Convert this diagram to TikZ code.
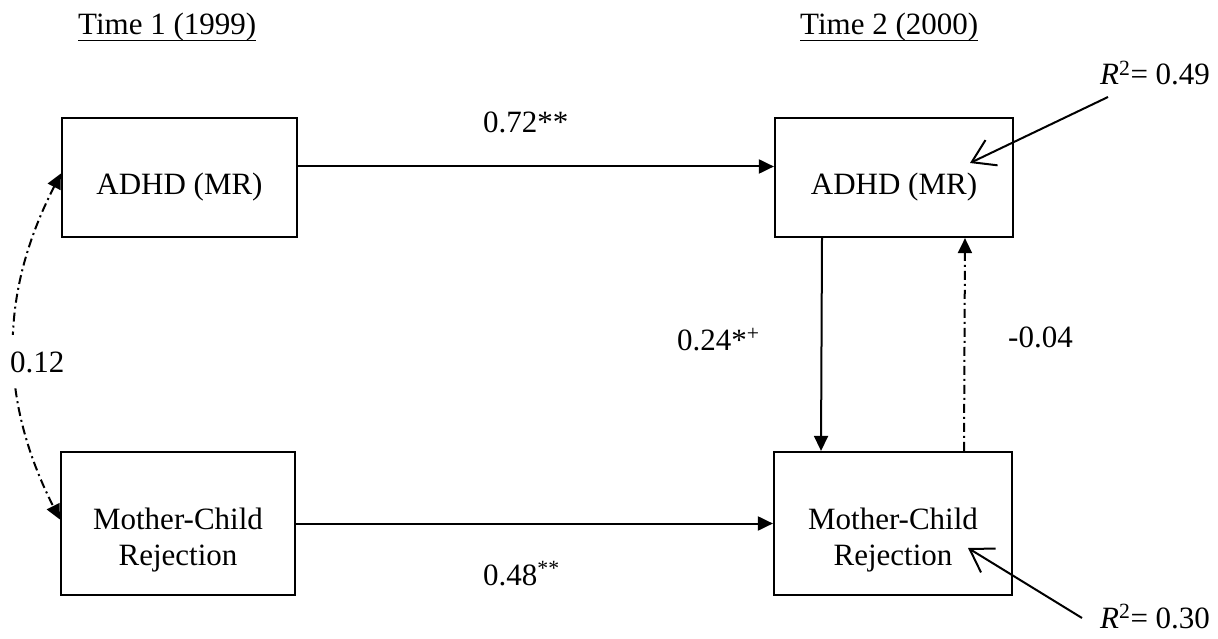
\documentclass[tikz,border=0pt]{standalone}
\usepackage{fontspec}
\setmainfont{Liberation Serif}
\usetikzlibrary{arrows.meta}
\tikzset{
  box/.style={draw, line width=2.2pt, inner sep=0pt},
  txt/.style={inner sep=0pt, font=\fontsize{31}{36}\selectfont},
  arr/.style={line width=2pt, -{Triangle[length=15pt,width=14pt]}},
  ddash/.style={line width=2pt, dash pattern=on 9pt off 4pt on 2pt off 4pt},
  openarr/.style={line width=2pt, -{Straight Barb[length=22pt,width=28pt,line width=2pt]}}
}
\begin{document}
\begin{tikzpicture}[x=1pt,y=-1pt]
\useasboundingbox (0,0) rectangle (1218,639);
% titles
\node[txt, anchor=base west] (t1) at (78,35) {Time 1 (1999)};
\node[txt, anchor=base west] (t2) at (800,35) {Time 2 (2000)};
\draw[line width=1.8pt] ([yshift=-5.5pt]t1.base west) -- ([yshift=-5.5pt]t1.base east);
\draw[line width=1.8pt] ([yshift=-5.5pt]t2.base west) -- ([yshift=-5.5pt]t2.base east);
% boxes
\node[box, minimum width=235pt, minimum height=119pt] (a1) at (179.5,177.5) {};
\node[box, minimum width=238pt, minimum height=119pt] (b1) at (894,177.5) {};
\node[box, minimum width=234pt, minimum height=143pt] (a2) at (178,523.5) {};
\node[box, minimum width=238pt, minimum height=143pt] (b2) at (893,523.5) {};
% box texts
\node[txt, anchor=base] (a1t) at (179.5,195) {ADHD (MR)};
\node[txt, anchor=base] (b1t) at (894,195) {ADHD (MR)};
\node[txt, align=center] (a2t) at (178,540) {Mother-Child\\Rejection};
\node[txt, align=center] (b2t) at (893,540) {Mother-Child\\Rejection};
% paths
\draw[arr] ([yshift=11pt]a1.east) -- ([yshift=11pt]b1.west);
\draw[arr] (a2.east) -- (b2.west);
\draw[arr] ([xshift=-72pt]b1.south) -- ([xshift=-72pt]b2.north);
\draw[ddash, -{Triangle[length=15pt,width=14pt]}] ([xshift=71pt]b2.north) -- ([xshift=71pt]b1.south);
\draw[ddash, {Triangle[length=15pt,width=14pt]}-{Triangle[length=15pt,width=14pt]}] ([yshift=4pt]a1.west) to[bend right=27] ([yshift=4pt]a2.west);
% labels
\node[txt, anchor=base west] (l072) at (483,133) {0.72**};
\node[txt, anchor=base west] (l048) at (483,585) {0.48\textsuperscript{**}};
\node[txt, anchor=base west] (l024) at (677,350) {0.24*\textsuperscript{+}};
\node[txt, anchor=base west] (l004) at (1008,347) {-0.04};
\node[txt, anchor=base west, fill=white, inner ysep=16pt, inner xsep=8pt] (l012) at (2,372) {0.12};
% R squared
\node[txt, anchor=base west] (r1) at (1100,85) {\textit{R}\textsuperscript{2}= 0.49};
\node[txt, anchor=base west] (r2) at (1100,628) {\textit{R}\textsuperscript{2}= 0.30};
\coordinate (r1tip) at (970,163);
\coordinate (r2tip) at (968,548);
\draw[openarr] ([xshift=8pt,yshift=-12pt]r1.base west) -- (r1tip);
\draw[openarr] ([xshift=-18pt,yshift=10pt]r2.base west) -- (r2tip);
\end{tikzpicture}
\end{document}
